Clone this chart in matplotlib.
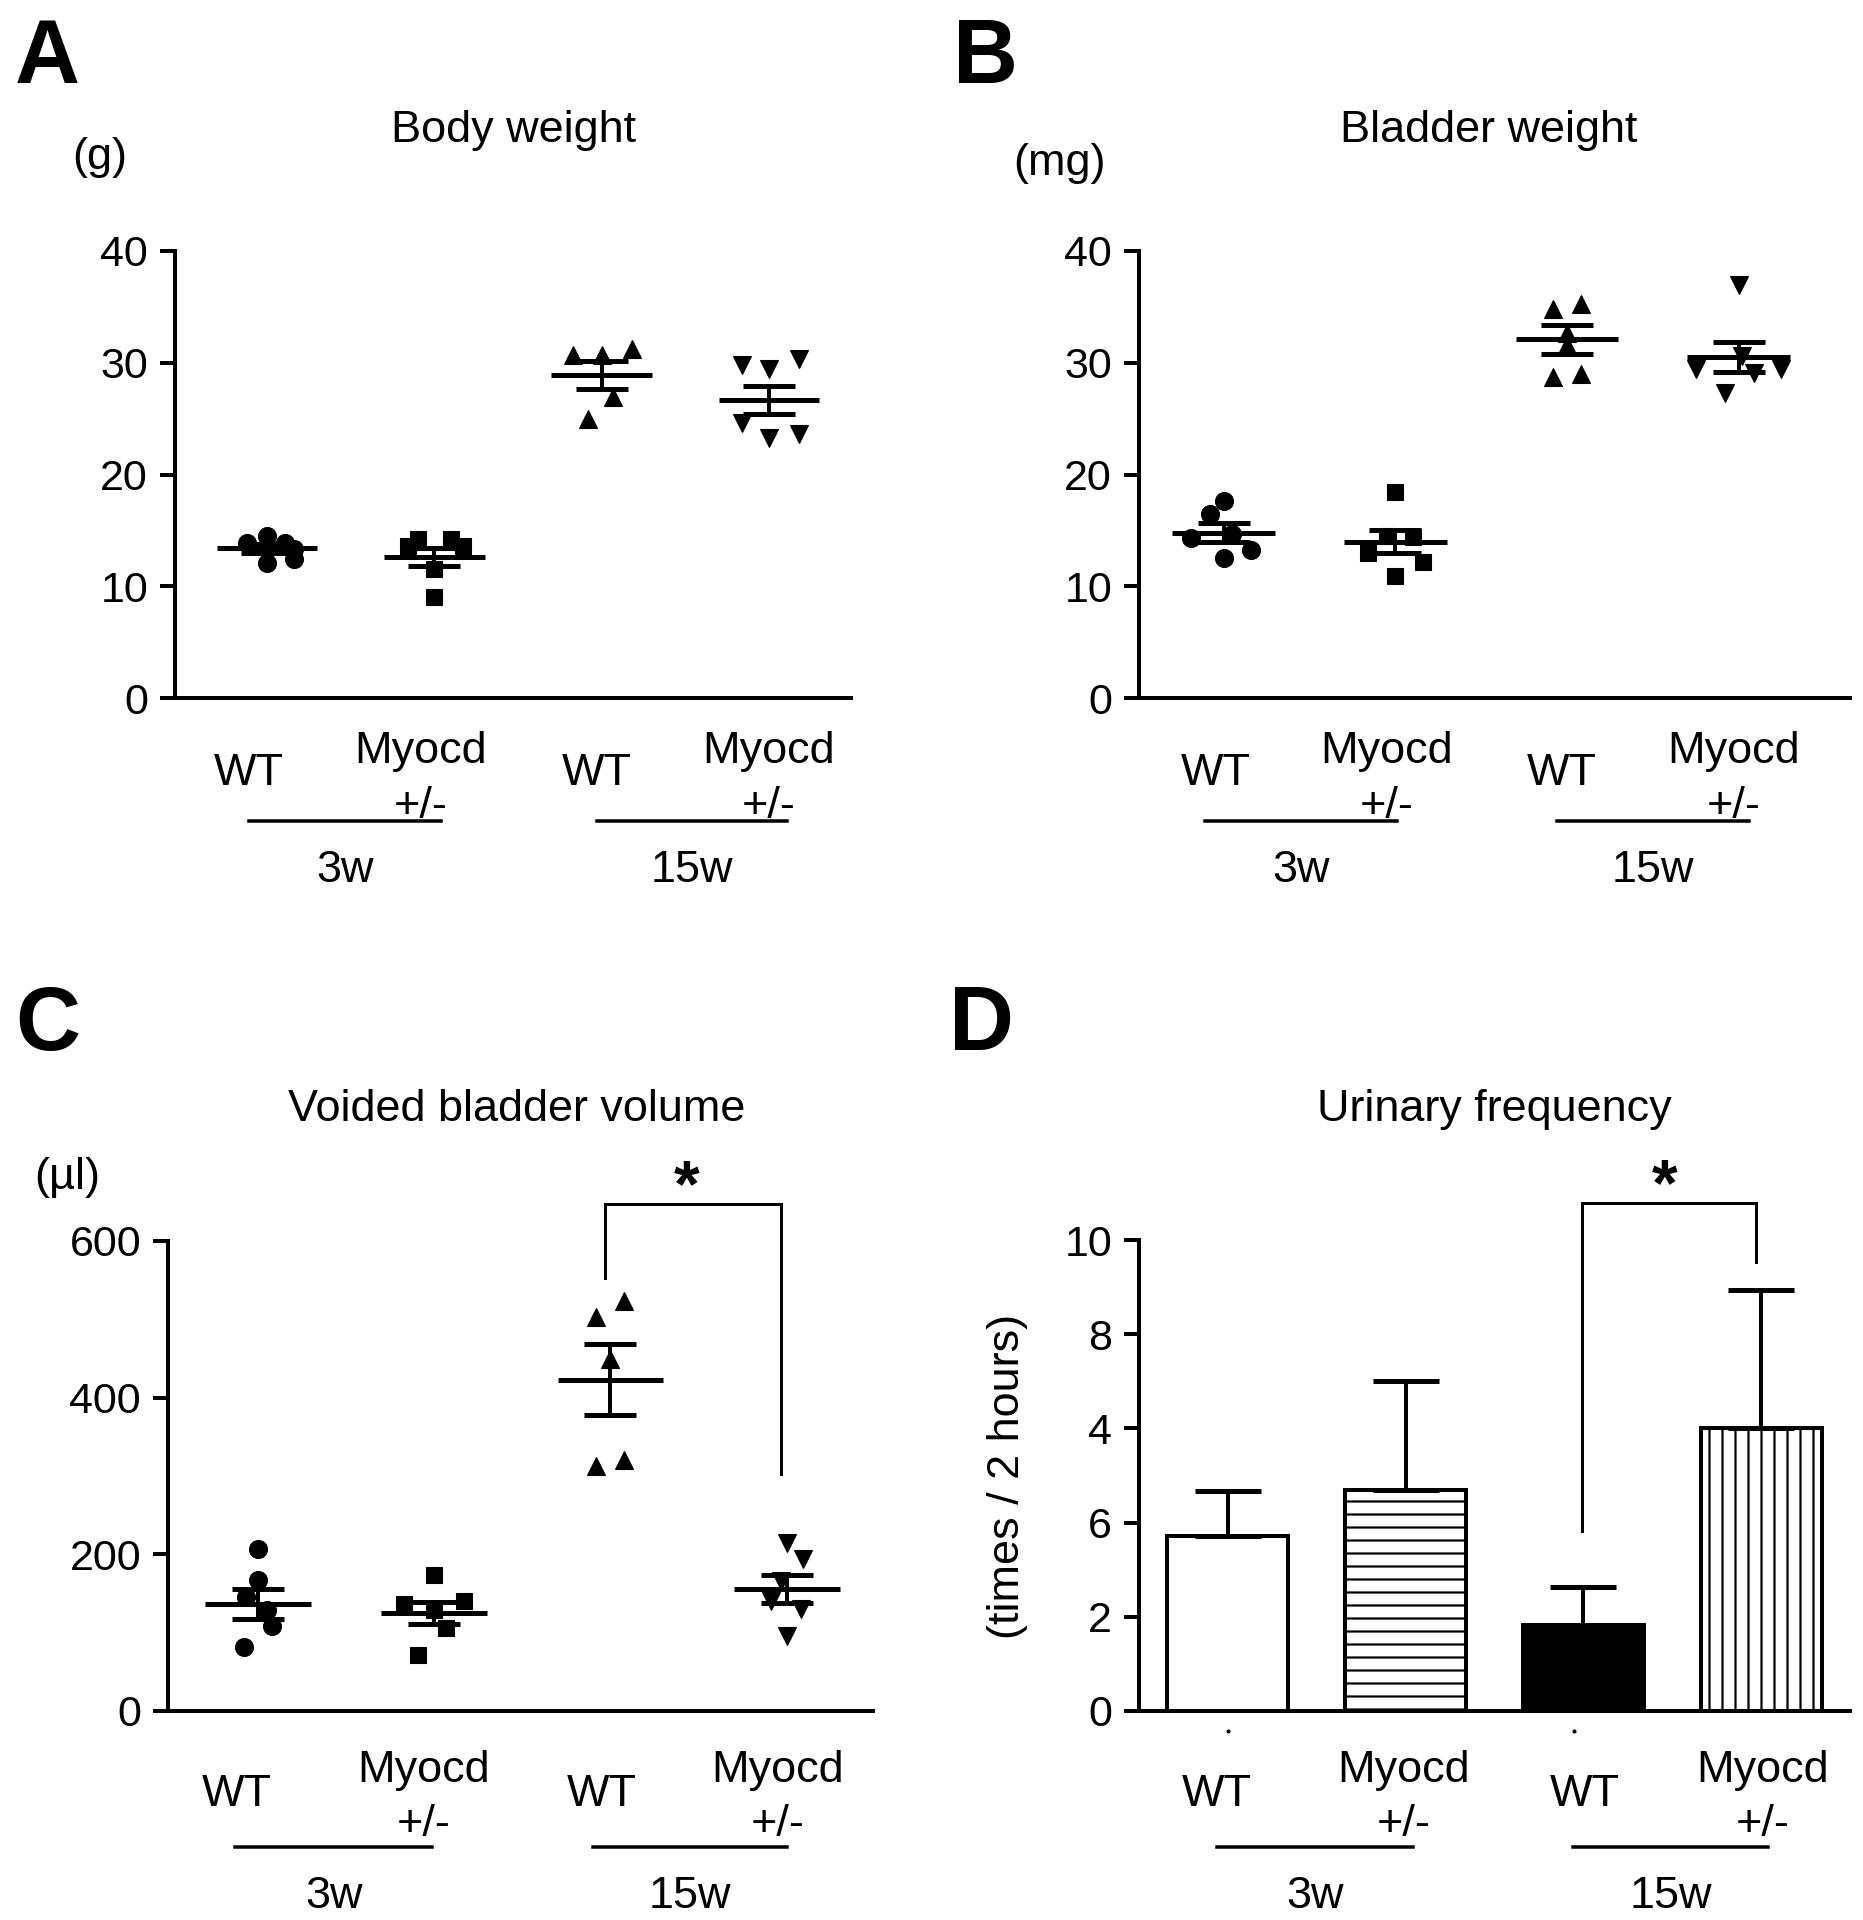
import numpy as np
import matplotlib
matplotlib.use("Agg")
import matplotlib.pyplot as plt

DPI = 78
W, H = 1863, 1920
PT = 72 / DPI  # points per output pixel

plt.rcParams["font.family"] = ["Liberation Sans", "DejaVu Sans"]
plt.rcParams["hatch.linewidth"] = 2.2 * PT

# -------------------------------
# DATA
# -------------------------------

group_names = ["WT", "Myocd", "WT", "Myocd"]
age_names = ["3w", "15w"]

# body weight (g)
body_wt_3w = [14.5, 13.9, 13.9, 13.3, 12.1, 12.4]
body_myo_3w = [14.2, 14.2, 13.6, 13.6, 11.5, 9.0]
body_wt_15w = [30.7, 30.7, 31.2, 26.9, 25.0]
body_myo_15w = [29.8, 29.4, 30.3, 24.6, 23.3, 23.6]
body_means = [13.4, 12.6, 28.9, 26.7]
body_sems = [0.4, 0.83, 1.25, 1.25]

# bladder weight (mg)
bladder_wt_3w = [17.6, 16.5, 14.3, 12.5, 13.2, 14.7]
bladder_myo_3w = [18.4, 14.5, 14.4, 13.0, 12.2, 10.9]
bladder_wt_15w = [34.8, 35.3, 28.7, 29.0, 31.6, 32.7]
bladder_myo_15w = [37.0, 29.4, 29.4, 29.1, 27.3, 30.6]
bladder_means = [14.8, 14.0, 32.1, 30.5]
bladder_sems = [0.84, 1.0, 1.3, 1.35]

# voided bladder volume (ul)
voided_wt_3w = [207, 167, 146, 129, 108, 82]
voided_myo_3w = [174, 136, 140, 129, 106, 72]
voided_wt_15w = [524, 503, 449, 313, 320]
voided_myo_15w = [215, 194, 166, 140, 130, 96]
voided_means = [137, 125, 423, 156]
voided_sems = [19, 14, 45, 18]

# urinary frequency (times / 2 hours)
freq_means = [3.72, 4.69, 1.82, 6.01]
freq_errs = [0.95, 2.31, 0.82, 2.93]
freq_ticks = [0, 2, 4, 6, 8, 10]
freq_ticklabels = ["0", "2", "6", "4", "8", "10"]

# -------------------------------
# LAYOUT / STYLE
# -------------------------------

POS = np.array([1.0, 2.0, 3.0, 4.0])
MARKERS = ["o", "s", "^", "v"]
MARKER_PX = [18, 16, 18, 18]

# horizontal spread of the dots in each column
JITTER_BODY = [[0, -0.12, 0.11, 0.16, 0, 0.16],
               [-0.1, 0.1, -0.16, 0.17, 0, 0],
               [-0.17, 0, 0.18, 0.07, -0.08],
               [-0.16, 0, 0.18, -0.16, 0, 0.18]]
JITTER_BLADDER = [[0, -0.08, -0.19, 0, 0.16, 0.05],
                  [0, -0.05, 0.1, -0.16, 0.16, 0],
                  [-0.08, 0.08, -0.08, 0.08, 0, 0],
                  [0, -0.25, 0.25, 0.09, -0.08, 0.02]]
JITTER_VOIDED = [[0, 0, -0.07, 0.05, 0.08, -0.08],
                 [0, -0.17, 0.17, 0.0, 0.07, -0.09],
                 [0.08, -0.08, 0, -0.08, 0.08],
                 [0, 0.09, -0.03, -0.09, 0.08, 0]]

FS = 43 * PT
FS_LABEL = 45 * PT
FS_LETTER = 90 * PT
LW_AX = 4 * PT


def add_axes(left, top, right, bottom):
    return fig.add_axes([left / W, 1 - bottom / H, (right - left) / W, (bottom - top) / H])


def ftext(x, y, s, **kw):
    fig.text(x / W, 1 - y / H, s, **kw)


def style_axis(ax, xlim, ymax, yticks, yticklabels=None):
    ax.set_xlim(xlim)
    ax.set_ylim(0, ymax)
    for s in ["top", "right"]:
        ax.spines[s].set_visible(False)
    for s in ["left", "bottom"]:
        ax.spines[s].set_linewidth(LW_AX)
    ax.set_xticks([])
    ax.set_yticks(yticks)
    if yticklabels is not None:
        ax.set_yticklabels(yticklabels)
    ax.tick_params(axis="y", length=15 * PT, width=LW_AX, pad=12 * PT, labelsize=FS)


def scatter_panel(ax, columns, means, sems, jitter):
    for i, vals in enumerate(columns):
        x = POS[i] + np.array(jitter[i])
        ax.plot(x, vals, linestyle="none", marker=MARKERS[i], ms=MARKER_PX[i] * PT,
                color="black", zorder=2, clip_on=False)
    ax.hlines(means, POS - 0.3, POS + 0.3, lw=5 * PT, color="black", zorder=3)
    ax.errorbar(POS, means, yerr=sems, fmt="none", ecolor="black", elinewidth=4 * PT,
                capsize=26 * PT, capthick=5 * PT, zorder=3)


def group_labels(ax, ppu, dy, label_dx, line_lo, line_hi):
    # dy: pixel offsets below the axis for WT, Myocd, +/-, line, age
    to_y = lambda px: -px / ppu
    for i, name in enumerate(group_names):
        x = POS[i] + label_dx[i]
        if name == "WT":
            ax.text(x, to_y(dy[0]), name, ha="center", va="baseline", fontsize=FS_LABEL, clip_on=False)
        else:
            ax.text(x, to_y(dy[1]), name, ha="center", va="baseline", fontsize=FS_LABEL, clip_on=False)
            ax.text(x, to_y(dy[2]), "+/-", ha="center", va="baseline", fontsize=FS_LABEL, clip_on=False)
    for k, age in enumerate(age_names):
        x0 = POS[2 * k] - line_lo[k]
        x1 = POS[2 * k + 1] + line_hi[k]
        ax.plot([x0, x1], [to_y(dy[3])] * 2, color="black", lw=3.5 * PT, clip_on=False)
        ax.text((x0 + x1) / 2, to_y(dy[4]), age, ha="center", va="baseline", fontsize=FS_LABEL, clip_on=False)


def bracket(ax, x0, x1, y_left, y_right, y_top, star_dx=0.0):
    ax.plot([x0, x0, x1, x1], [y_left, y_top, y_top, y_right], color="black",
            lw=3 * PT, clip_on=False, solid_joinstyle="miter")
    ax.annotate("*", xy=((x0 + x1) / 2 + star_dx, y_top), xytext=(0, -2 * PT),
                textcoords="offset points", ha="center", va="baseline",
                fontsize=66 * PT, fontweight="bold", annotation_clip=False)


fig = plt.figure(figsize=(W / DPI, H / DPI), dpi=DPI)

# -------------------------------
# A: BODY WEIGHT
# -------------------------------
axA = add_axes(175, 251, 851, 698)
style_axis(axA, (0.45, 4.49), 40, [0, 10, 20, 30, 40])
scatter_panel(axA, [body_wt_3w, body_myo_3w, body_wt_15w, body_myo_15w],
              body_means, body_sems, JITTER_BODY)
group_labels(axA, (698 - 251) / 40, [87, 65, 120, 123, 184], [-0.11, -0.08, -0.03, 0.0],
             [0.11, 0.03], [0.04, 0.11])

# -------------------------------
# B: BLADDER WEIGHT
# -------------------------------
axB = add_axes(1139, 251, 1850, 698)
style_axis(axB, (0.505, 4.65), 40, [0, 10, 20, 30, 40])
scatter_panel(axB, [bladder_wt_3w, bladder_myo_3w, bladder_wt_15w, bladder_myo_15w],
              bladder_means, bladder_sems, JITTER_BLADDER)
group_labels(axB, (698 - 251) / 40, [87, 65, 120, 123, 184], [-0.05, -0.05, -0.03, -0.03],
             [0.11, 0.06], [0.01, 0.06])

# -------------------------------
# C: VOIDED BLADDER VOLUME
# -------------------------------
axC = add_axes(168, 1241, 873, 1711)
style_axis(axC, (0.49, 4.49), 600, [0, 200, 400, 600])
scatter_panel(axC, [voided_wt_3w, voided_myo_3w, voided_wt_15w, voided_myo_15w],
              voided_means, voided_sems, JITTER_VOIDED)
group_labels(axC, (1711 - 1241) / 600, [95, 71, 125, 136, 197], [-0.12, -0.06, -0.05, -0.05],
             [0.13, 0.1], [-0.01, 0.0])
bracket(axC, 2.97, 3.97, 553, 303, 647, star_dx=-0.04)

# -------------------------------
# D: URINARY FREQUENCY
# -------------------------------
axD = add_axes(1139, 1240, 1850, 1711)
style_axis(axD, (0.5, 4.5), 10, freq_ticks, freq_ticklabels)
bars = axD.bar(POS, freq_means, width=0.68, color=["white", "white", "black", "white"],
               edgecolor="black", linewidth=4 * PT, zorder=2)
for patch, h in zip(bars, [None, "-", None, "|"]):
    if h:
        patch.set_hatch(h)
axD.errorbar(POS, freq_means, yerr=[np.zeros(4), freq_errs], fmt="none", ecolor="black",
             elinewidth=4 * PT, capsize=33 * PT, capthick=5 * PT, zorder=3)
axD.plot([1.0, 2.95], [-0.42, -0.42], linestyle="none", marker="o", ms=3 * PT,
         color="black", clip_on=False)
group_labels(axD, (1711 - 1240) / 10, [95, 71, 125, 136, 197], [-0.06, -0.01, 0.01, 0.01],
             [0.06, 0.06], [0.04, 0.04])
bracket(axD, 2.99, 3.97, 3.82, 9.53, 10.78, star_dx=-0.02)

# -------------------------------
# TEXT: LETTERS, TITLES, UNITS
# -------------------------------
for x, y, s in [(15, 83, "A"), (953, 83, "B"), (15, 1050, "C"), (949, 1050, "D")]:
    ftext(x, y, s, ha="left", va="baseline", fontsize=FS_LETTER, fontweight="bold")

for x, y, s in [(514, 142, "Body weight"), (1489, 142, "Bladder weight"),
                (517, 1121, "Voided bladder volume"), (1494, 1121, "Urinary frequency")]:
    ftext(x, y, s, ha="center", va="baseline", fontsize=FS_LABEL)

ftext(100, 158, "(g)", ha="center", va="center", fontsize=FS_LABEL)
ftext(1060, 164, "(mg)", ha="center", va="center", fontsize=FS_LABEL)
ftext(67, 1177, "(\u00b5l)", ha="center", va="center", fontsize=FS_LABEL)
ftext(1007, 1476, "(times / 2 hours)", ha="center", va="center", rotation=90, fontsize=FS_LABEL)

fig.savefig("out.png", dpi=DPI, facecolor="white")
